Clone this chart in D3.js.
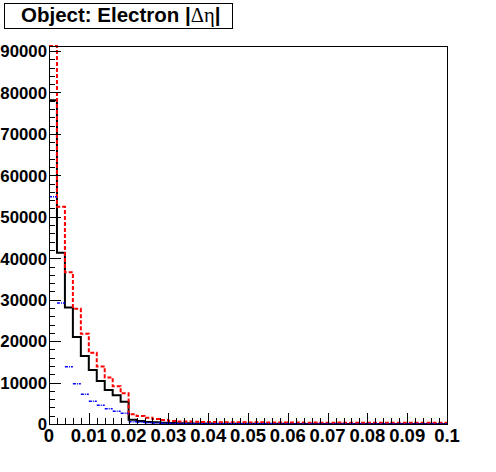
<!DOCTYPE html>
<html>
<head>
<meta charset="utf-8">
<script src="https://cdn.jsdelivr.net/npm/d3@7"></script>
<style>
  body { margin: 0; background: #fff; }
  svg { display: block; }
  .lbl { font-family: "Liberation Sans", Arial, Helvetica, sans-serif; font-weight: bold; }
</style>
</head>
<body>
<div id="chart"></div>
<script>
// histogram binning : 50 bins between 0 and 0.1
var binLow = 0, binHigh = 0.1, nBins = 50;

// black solid histogram
var blackVals = [78100, 41300, 28100, 21000, 16400, 13000, 10350, 8200, 6950, 5350,
                 1000, 750, 500, 400, 320, 260, 210, 170, 140, 120,
                 100, 90, 80, 70, 60, 55, 50, 45, 40, 35,
                 30, 30, 25, 25, 20, 20, 20, 15, 15, 15,
                 10, 10, 10, 10, 10, 10, 10, 10, 10, 10];
// red dashed histogram
var redVals = [91200, 52400, 36600, 27800, 21800, 17200, 13900, 11200, 9100, 7400,
               2330, 1920, 1520, 1200, 960, 740, 620, 600, 520, 480,
               460, 440, 420, 400, 420, 380, 400, 380, 360, 380,
               340, 360, 320, 340, 330, 320, 340, 300, 320, 300,
               320, 300, 290, 310, 300, 290, 300, 280, 300, 290];
// blue dotted histogram
var blueVals = [54800, 29200, 13800, 9700, 7200, 5500, 4500, 3700, 3100, 2600,
                550, 400, 300, 220, 170, 130, 110, 90, 80, 70,
                60, 55, 50, 45, 40, 40, 35, 35, 30, 30,
                30, 25, 25, 25, 20, 20, 20, 20, 20, 20,
                15, 15, 15, 15, 15, 15, 15, 15, 15, 15];

var xTicks = [0, 0.01, 0.02, 0.03, 0.04, 0.05, 0.06, 0.07, 0.08, 0.09, 0.1];
var yTicks = [0, 10000, 20000, 30000, 40000, 50000, 60000, 70000, 80000, 90000];
var yMax = 91200;
var title = "Object: Electron |";

var W = 496, H = 472;
var frame = {left: 49, right: 447, top: 46, bottom: 424};

var svg = d3.select("#chart").append("svg")
    .attr("width", W)
    .attr("height", H);

svg.append("rect").attr("width", W).attr("height", H).attr("fill", "#fff");

var x = d3.scaleLinear().domain([binLow, binHigh]).range([frame.left, frame.right]);
var y = d3.scaleLinear().domain([0, yMax]).range([frame.bottom, frame.top]);

svg.append("clipPath").attr("id", "clip")
  .append("rect")
    .attr("x", frame.left).attr("y", frame.top - 1)
    .attr("width", frame.right - frame.left).attr("height", frame.bottom - frame.top + 1);

var binW = (binHigh - binLow) / nBins;

// step path for a histogram
function histPath(vals) {
    var p = d3.path();
    vals.forEach(function (v, i) {
        var x0 = x(binLow + i * binW), x1 = x(binLow + (i + 1) * binW);
        var yy = y(Math.min(v, yMax));
        if (i == 0) p.moveTo(x0, yy);
        else p.lineTo(x0, yy);
        p.lineTo(x1, yy);
    });
    return p.toString();
}

// only the flat tops of each bin (dotted style hides the risers)
function topsPath(vals) {
    var p = d3.path();
    vals.forEach(function (v, i) {
        var yy = y(Math.min(v, yMax));
        p.moveTo(x(binLow + i * binW), yy);
        p.lineTo(x(binLow + (i + 1) * binW), yy);
    });
    return p.toString();
}

var g = svg.append("g").attr("clip-path", "url(#clip)");

g.append("path")
    .attr("d", histPath(blackVals))
    .attr("fill", "none")
    .attr("stroke", "#000")
    .attr("stroke-width", 2);

g.append("path")
    .attr("d", histPath(redVals))
    .attr("fill", "none")
    .attr("stroke", "#ff0000")
    .attr("stroke-width", 2)
    .attr("stroke-dasharray", "4,2");

g.append("path")
    .attr("d", topsPath(blueVals))
    .attr("fill", "none")
    .attr("stroke", "#0000ff")
    .attr("stroke-width", 1.5)
    .attr("stroke-dasharray", "3,1,1,1");

// frame
svg.append("rect")
    .attr("x", frame.left).attr("y", frame.top)
    .attr("width", frame.right - frame.left).attr("height", frame.bottom - frame.top)
    .attr("fill", "none")
    .attr("stroke", "#000")
    .attr("stroke-width", 1)
    .attr("shape-rendering", "crispEdges");

// x axis: ticks point up inside frame
var xMinor = d3.range(0, 51).map(function (i) { return i * 0.002; });
var xAxis = svg.append("g").attr("shape-rendering", "crispEdges");
xAxis.selectAll("line.minor").data(xMinor).enter().append("line")
    .attr("x1", function (d) { return Math.round(x(d)) + 0.5; })
    .attr("x2", function (d) { return Math.round(x(d)) + 0.5; })
    .attr("y1", frame.bottom).attr("y2", frame.bottom - 6)
    .attr("stroke", "#000");
xAxis.selectAll("line.major").data(xTicks).enter().append("line")
    .attr("x1", function (d) { return Math.round(x(d)) + 0.5; })
    .attr("x2", function (d) { return Math.round(x(d)) + 0.5; })
    .attr("y1", frame.bottom).attr("y2", frame.bottom - 11)
    .attr("stroke", "#000");
xAxis.selectAll("text").data(xTicks).enter().append("text")
    .attr("class", "lbl")
    .attr("x", function (d) { return x(d); })
    .attr("y", 442)
    .attr("text-anchor", "middle")
    .attr("font-size", 18.5)
    .text(function (d) { return d3.format("")(d); });

// y axis: ticks point right inside frame
var yMinor = d3.range(0, 46).map(function (i) { return i * 2000; });
var yAxis = svg.append("g").attr("shape-rendering", "crispEdges");
yAxis.selectAll("line.minor").data(yMinor).enter().append("line")
    .attr("y1", function (d) { return Math.round(y(d)) + 0.5; })
    .attr("y2", function (d) { return Math.round(y(d)) + 0.5; })
    .attr("x1", frame.left).attr("x2", frame.left + 6)
    .attr("stroke", "#000");
yAxis.selectAll("line.major").data(yTicks).enter().append("line")
    .attr("y1", function (d) { return Math.round(y(d)) + 0.5; })
    .attr("y2", function (d) { return Math.round(y(d)) + 0.5; })
    .attr("x1", frame.left).attr("x2", frame.left + 12)
    .attr("stroke", "#000");
yAxis.selectAll("text").data(yTicks).enter().append("text")
    .attr("class", "lbl")
    .attr("x", 47)
    .attr("y", function (d) { return y(d) + 6.3; })
    .attr("text-anchor", "end")
    .attr("font-size", 16.8)
    .text(function (d) { return d; });

// title box
svg.append("rect")
    .attr("x", 4.5).attr("y", 3.5)
    .attr("width", 228).attr("height", 25)
    .attr("fill", "#fff")
    .attr("stroke", "#000");
var t = svg.append("text")
    .attr("class", "lbl")
    .attr("x", 21)
    .attr("y", 22)
    .attr("font-size", 20.5);
t.append("tspan").text(title);
t.append("tspan")
    .attr("font-family", "'Liberation Serif', 'Times New Roman', serif")
    .attr("font-weight", "normal")
    .text("\u0394\u03b7");
t.append("tspan").text("|");
</script>
</body>
</html>
